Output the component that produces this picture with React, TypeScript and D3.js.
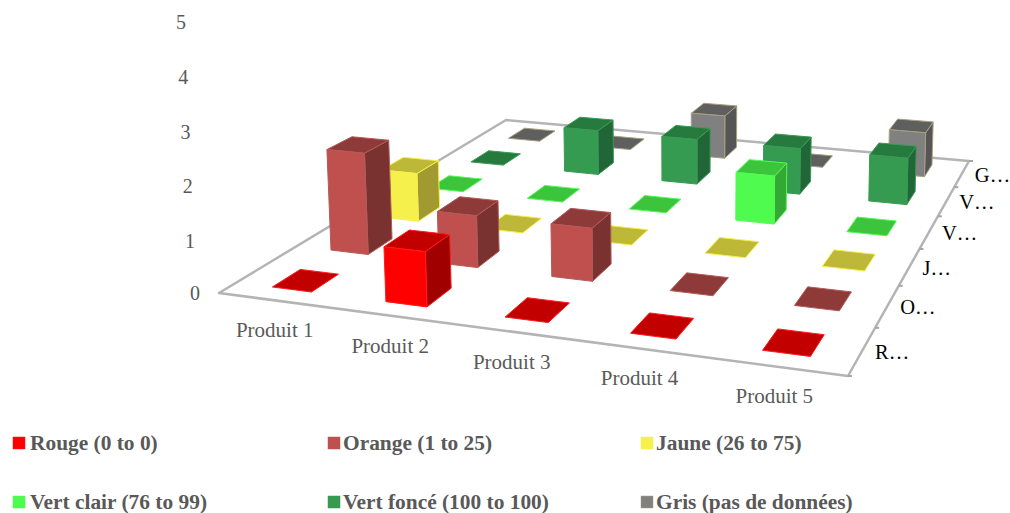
import React from "react";
import * as d3 from "d3";

const products = ["Produit 1", "Produit 2", "Produit 3", "Produit 4", "Produit 5"];
const seriesNames = ["Rouge (0 to 0)", "Orange (1 to 25)", "Jaune (26 to 75)", "Vert clair (76 to 99)", "Vert foncé (100 to 100)", "Gris (pas de données)"];
const seriesShort = ["R…", "O…", "J…", "V…", "V…", "G…"];
const valueTicks = [0, 1, 2, 3, 4, 5];

const rouge = [0, 1, 0, 0, 0];
const orange = [2, 1, 1, 0, 0];
const jaune = [1, 0, 0, 0, 0];
const vertClair = [0, 0, 0, 1, 0];
const vertFonce = [0, 1, 1, 1, 1];
const gris = [0, 0, 1, 0, 1];
const seriesValues = [rouge, orange, jaune, vertClair, vertFonce, gris];

const frontColors = ["#ff0000", "#c0504d", "#f6f04c", "#4ffb4f", "#359b50", "#808080"];
const topColors = ["#c20000", "#8d3a38", "#bdb838", "#3cc43c", "#277a3e", "#5f5f5f"];
const sideColors = ["#a00000", "#7a3230", "#a09a30", "#34a834", "#216637", "#555555"];
const edgeColors = ["#ff1a1a", "#b25a58", "#f6f04c", "#4ffb4f", "#3a9a55", "#a89f80"];

type Pt = [number, number];

// Floor corners in screen space: front-left, front-right, back-right, back-left.
const FL: Pt = [219, 293];
const FR: Pt = [848, 376];
const BR: Pt = [969, 161];
const BL: Pt = [506, 120];

// Homography taking the unit square (u along products, v along series) to the floor.
function floorHomography() {
  const [x0, y0] = FL, [x1, y1] = FR, [x2, y2] = BR, [x3, y3] = BL;
  const dx1 = x1 - x2, dx2 = x3 - x2, sx = x0 - x1 + x2 - x3;
  const dy1 = y1 - y2, dy2 = y3 - y2, sy = y0 - y1 + y2 - y3;
  const det = dx1 * dy2 - dx2 * dy1;
  const g = (sx * dy2 - dx2 * sy) / det;
  const h = (dx1 * sy - sx * dy1) / det;
  return {
    a: x1 - x0 + g * x1, b: x3 - x0 + h * x3, c: x0,
    d: y1 - y0 + g * y1, e: y3 - y0 + h * y3, f: y0,
    g, h,
  };
}
const H = floorHomography();

const unitHeight = d3.scaleLinear().domain([0, 1]).range([0, 54]);
const VANISH: Pt = [690, 9000];

// Projects a point of the chart box: u, v on the floor and a value above it.
function project(u: number, v: number, value = 0): Pt {
  const w = H.g * u + H.h * v + 1;
  const x = (H.a * u + H.b * v + H.c) / w;
  const y = (H.d * u + H.e * v + H.f) / w;
  const rise = unitHeight(value) / w;
  const lean = rise / (VANISH[1] - y);
  return [x + (x - VANISH[0]) * lean, y - rise];
}

const uBand = d3.scaleBand<number>().domain(d3.range(products.length)).range([0, 1]).paddingInner(0.65).paddingOuter(0.325);
const vBand = d3.scaleBand<number>().domain(d3.range(seriesNames.length)).range([0, 1]).paddingInner(0.54).paddingOuter(0.27);

const axisX = d3.scaleLinear().domain([0, 1, 5]).range([195, 190, 181]);
const axisY = d3.scaleLinear().domain([0, 1, 5]).range([293, 241, 22]);

const poly = (pts: Pt[]) => pts.map((p) => p.join(",")).join(" ");

const SERIF = "'Liberation Serif', 'Times New Roman', serif";
const GREY = "#595959";

const swatchX = [13, 328, 641];
const legendX = [30, 343, 656];
const legendY = [443, 502];

function Bar({ s, p }: { s: number; p: number }) {
  const value = seriesValues[s][p];
  const u0 = uBand(p)!, u1 = u0 + uBand.bandwidth();
  const v0 = vBand(s)!, v1 = v0 + vBand.bandwidth();
  const edge = edgeColors[s];
  const top = [project(u0, v0, value), project(u1, v0, value), project(u1, v1, value), project(u0, v1, value)];
  if (value === 0) {
    return <polygon points={poly(top)} fill={topColors[s]} stroke={edge} strokeWidth={1} strokeLinejoin="round" />;
  }
  const front = [project(u0, v0), project(u1, v0), project(u1, v0, value), project(u0, v0, value)];
  const side = [project(u1, v0), project(u1, v1), project(u1, v1, value), project(u1, v0, value)];
  return (
    <g stroke={edge} strokeWidth={1} strokeLinejoin="round">
      <polygon points={poly(side)} fill={sideColors[s]} />
      <polygon points={poly(top)} fill={topColors[s]} />
      <polygon points={poly(front)} fill={frontColors[s]} />
    </g>
  );
}

export default function App() {
  const rows = d3.range(seriesNames.length).reverse();
  return (
    <svg width={1010} height={513} style={{ position: "absolute", left: 0, top: 0, background: "#fff" }} fontFamily={SERIF}>
      {/* floor outline */}
      <polygon points={poly([FL, FR, BR, BL])} fill="#fff" stroke="#b4b4b4" strokeWidth={2.5} strokeLinejoin="round" />
      {/* depth axis ticks */}
      {d3.range(seriesNames.length + 1).map((i) => {
        const a = project(1, i / seriesNames.length);
        return <line key={i} x1={a[0]} y1={a[1]} x2={a[0] + 4} y2={a[1]} stroke="#a6a6a6" strokeWidth={2} />;
      })}
      {/* bars, painted from the back row forward */}
      {rows.map((s) => products.map((_, p) => <Bar key={`${s}-${p}`} s={s} p={p} />))}
      {/* value axis */}
      {valueTicks.map((t) => (
        <text key={t} x={axisX(t)} y={axisY(t)} fontSize={20} fill={GREY} textAnchor="middle" dominantBaseline="central">{t}</text>
      ))}
      {/* product axis */}
      {products.map((name, p) => {
        const c = project((uBand(p)! + uBand.bandwidth() / 2) * 0.995, 0);
        return (
          <text key={name} x={c[0]} y={c[1] + 30} fontSize={21} fill={GREY} textAnchor="middle" dominantBaseline="central">{name}</text>
        );
      })}
      {/* series axis */}
      {seriesShort.map((name, s) => {
        const c = project(1, vBand(s)! + vBand.bandwidth() / 2);
        return (
          <text key={s} x={c[0] + 13} y={c[1] + 1} fontSize={20.5} fill="#000" dominantBaseline="central">{name}</text>
        );
      })}
      {/* legend */}
      {seriesNames.map((name, s) => {
        const i = s % 3;
        const y = legendY[Math.floor(s / 3)];
        return (
          <g key={name}>
            <rect x={swatchX[i]} y={y - 6} width={12} height={12} fill={frontColors[s]} stroke={edgeColors[s]} strokeWidth={0.5} />
            <text x={legendX[i]} y={y} fontSize={21.4} fontWeight="bold" fill={GREY} dominantBaseline="central">{name}</text>
          </g>
        );
      })}
    </svg>
  );
}
